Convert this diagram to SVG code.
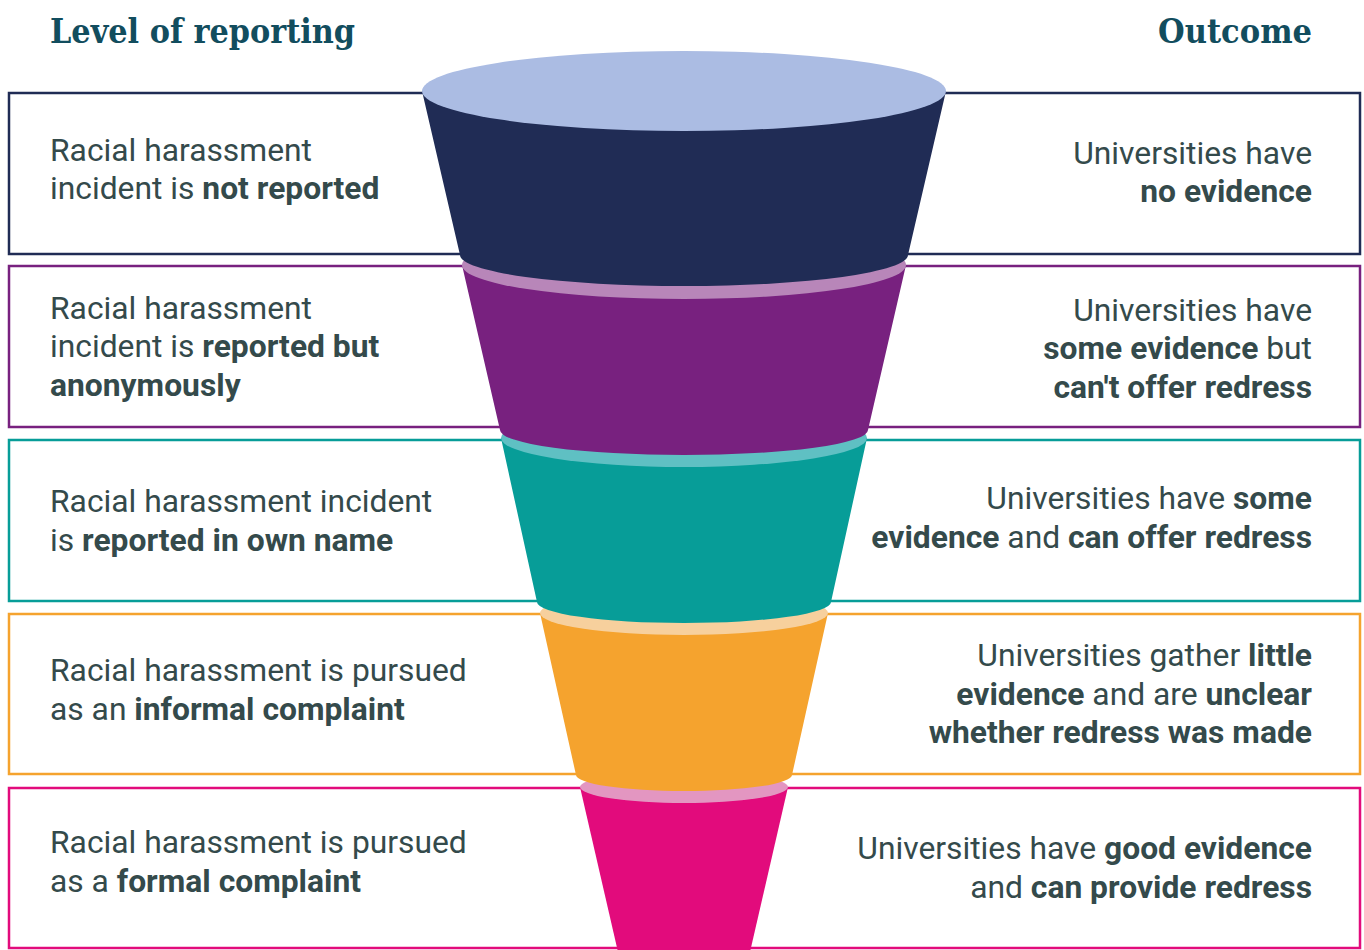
<svg xmlns="http://www.w3.org/2000/svg" width="1364" height="950" viewBox="0 0 1364 950">
<style>
.h{font-family:"DejaVu Serif","Liberation Serif",serif;font-weight:700;font-size:34px;fill:#124d5e}
.t{font-family:Roboto,"Liberation Sans",sans-serif;font-size:31.8px;fill:#344a4b}
.b{font-weight:700}
.r{text-anchor:end}
.box{fill:#fff;stroke-width:2.5}
</style>
<rect width="1364" height="950" fill="#fff"/>
<text class="h" x="50" y="43" textLength="305" lengthAdjust="spacingAndGlyphs">Level of reporting</text>
<text class="h r" x="1312" y="43" textLength="154" lengthAdjust="spacingAndGlyphs">Outcome</text>

<g id="level1">
<rect class="box" x="9" y="93" width="1351" height="161" stroke="#202c55"/>
<text class="t"><tspan x="50" y="161">Racial harassment</tspan><tspan x="50" y="199">incident is <tspan class="b">not reported</tspan></tspan></text>
<text class="t r"><tspan x="1312" y="164">Universities have</tspan><tspan x="1312" y="202" class="b">no evidence</tspan></text>
</g>
<g id="level2">
<rect class="box" x="9" y="266" width="1351" height="161" stroke="#78217f"/>
<text class="t"><tspan x="50" y="319">Racial harassment</tspan><tspan x="50" y="357">incident is <tspan class="b">reported but</tspan></tspan><tspan x="50" y="396" class="b">anonymously</tspan></text>
<text class="t r"><tspan x="1312" y="321">Universities have</tspan><tspan x="1312" y="359"><tspan class="b">some evidence</tspan> but</tspan><tspan x="1312" y="398" class="b">can't offer redress</tspan></text>
</g>
<g id="level3">
<rect class="box" x="9" y="440" width="1351" height="161" stroke="#079d98"/>
<text class="t"><tspan x="50" y="512">Racial harassment incident</tspan><tspan x="50" y="551">is <tspan class="b">reported in own name</tspan></tspan></text>
<text class="t r"><tspan x="1312" y="509">Universities have <tspan class="b">some</tspan></tspan><tspan x="1312" y="548"><tspan class="b">evidence</tspan> and <tspan class="b">can offer redress</tspan></tspan></text>
</g>
<g id="level4">
<rect class="box" x="9" y="614" width="1351" height="160" stroke="#f5a32e"/>
<text class="t"><tspan x="50" y="681">Racial harassment is pursued</tspan><tspan x="50" y="720">as an <tspan class="b">informal complaint</tspan></tspan></text>
<text class="t r"><tspan x="1312" y="666">Universities gather <tspan class="b">little</tspan></tspan><tspan x="1312" y="705"><tspan class="b">evidence</tspan> and are <tspan class="b">unclear</tspan></tspan><tspan x="1312" y="743" class="b">whether redress was made</tspan></text>
</g>
<g id="level5">
<rect class="box" x="9" y="788" width="1351" height="160" stroke="#e20b7c"/>
<text class="t"><tspan x="50" y="853">Racial harassment is pursued</tspan><tspan x="50" y="892">as a <tspan class="b">formal complaint</tspan></tspan></text>
<text class="t r"><tspan x="1312" y="859">Universities have <tspan class="b">good evidence</tspan></tspan><tspan x="1312" y="898">and <tspan class="b">can provide redress</tspan></tspan></text>
</g>

<g id="funnel">
<g id="seg5">
<path d="M580,787 L618,952 L750,952 L788,787 Z" fill="#e20b7c"/>
<ellipse cx="684" cy="787" rx="104" ry="16" fill="#e396c1"/>
</g>
<g id="seg4">
<path d="M540,613 L576,775 A108,16 0 0 0 792,775 L828,613 Z" fill="#f5a32e"/>
<ellipse cx="684" cy="613" rx="144" ry="22" fill="#f7d09d"/>
</g>
<g id="seg3">
<path d="M501,438 L537,602 A147,21 0 0 0 831,602 L867,438 Z" fill="#079d98"/>
<ellipse cx="684" cy="438" rx="183" ry="29" fill="#5fc0c3"/>
</g>
<g id="seg2">
<path d="M462,265 L500,430 A184,25 0 0 0 868,430 L906,265 Z" fill="#78217f"/>
<ellipse cx="684" cy="265" rx="222" ry="34" fill="#b886b9"/>
</g>
<g id="seg1">
<path d="M422,91 L460,255 A224,31 0 0 0 908,255 L946,91 Z" fill="#202c55"/>
<ellipse cx="684" cy="91" rx="262" ry="40" fill="#abbce3"/>
</g>
</g>
</svg>
